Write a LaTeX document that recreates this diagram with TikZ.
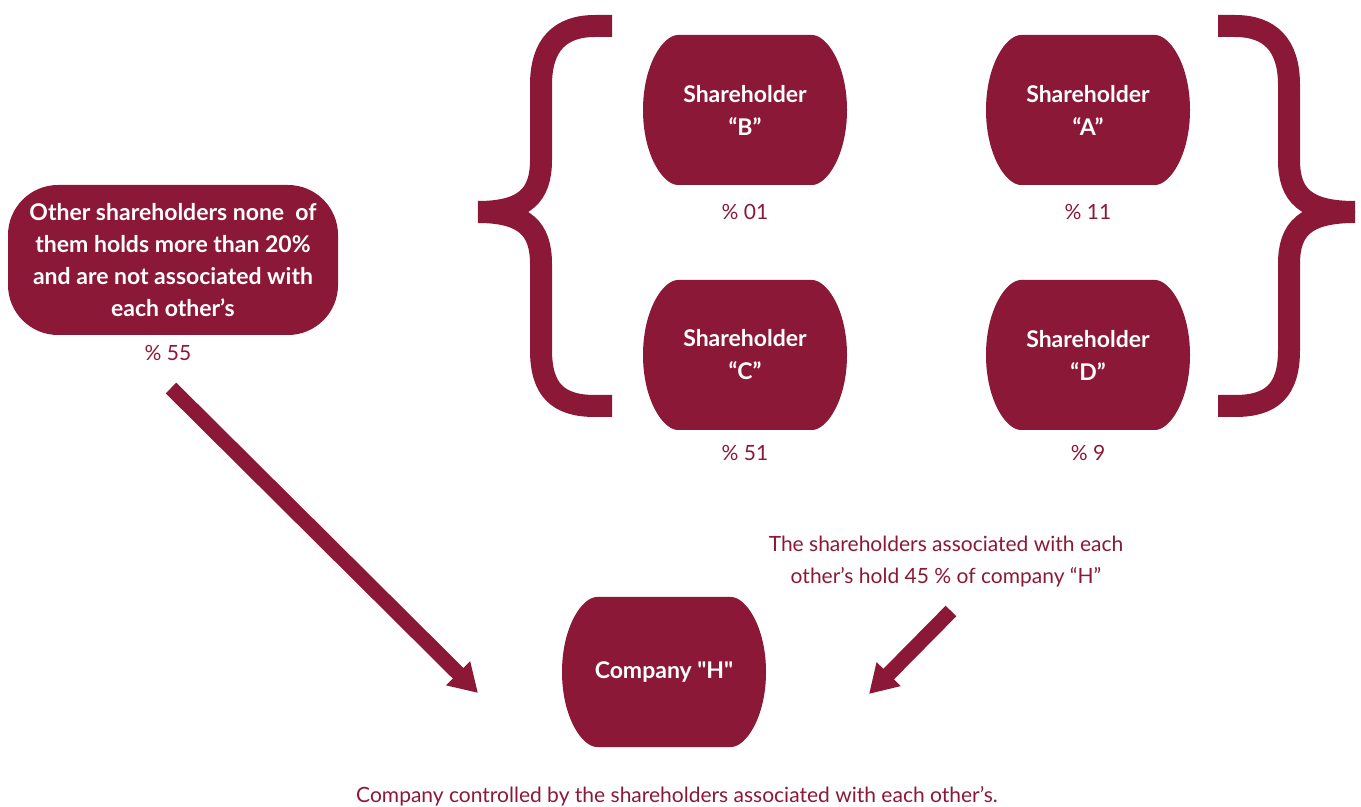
\documentclass[tikz,border=0pt]{standalone}
\usepackage{fontspec}
\setmainfont{Lato}
\usepackage{xcolor}
\usetikzlibrary{arrows.meta, positioning}
\definecolor{maroon}{RGB}{140,24,56}
% barrel outline, centred on the origin (units: picture pixels)
\newcommand{\barrelshape}{(-67,-75) -- (67,-75) .. controls (82,-75) and (102,-45) .. (102,0)
  .. controls (102,45) and (82,75) .. (67,75) -- (-67,75) .. controls (-82,75) and (-102,45) .. (-102,0)
  .. controls (-102,-45) and (-82,-75) .. (-67,-75) -- cycle}

\begin{document}
\begin{tikzpicture}[
  x=0.5pt, y=-0.5pt,
  every node/.style={text=maroon},
  barrelfill/.style={fill=maroon},
  barrel/.style={rectangle, minimum width=102pt, minimum height=75pt, inner sep=0pt, text=white,
    font=\bfseries\fontsize{11.5}{16.5}\selectfont, align=center},
  otherbox/.style={rectangle, rounded corners=25pt, fill=maroon, minimum width=165pt,
    minimum height=75pt, inner sep=0pt, text=white,
    font=\bfseries\fontsize{11.5}{16}\selectfont, align=center},
  pct/.style={font=\fontsize{10.5}{14}\selectfont},
  note/.style={font=\fontsize{10.5}{16}\selectfont, align=center},
  brace/.style={draw=maroon, line width=11pt},
  bigarrow/.style={draw=maroon, line width=7.5pt, -{Triangle[length=14pt,width=16pt]}}
]
\useasboundingbox (0,0) rectangle (1361,807);
% Associated shareholders (barrels) with their shares
\foreach \nm/\px/\py/\qy/\val in {B/745/110/212/01, A/1088/110/212/11, C/745/355/453/51, D/1088/355/453/9}{
  \fill[barrelfill, shift={(\px,\py)}] \barrelshape;
  \node[barrel] (\nm) at (\px,\py) {Shareholder\\“\nm”};
  \node[pct] (p\nm) at (\px,\qy) {\% \val};
}
% Left brace
\draw[brace] (612,26) -- (595,26) .. controls (560,26) and (541,45) .. (541,85)
  -- (541,160) .. controls (541,195) and (525,212) .. (478,212);
\draw[brace] (478,212) .. controls (525,212) and (541,229) .. (541,264)
  -- (541,350) .. controls (541,390) and (558,406) .. (595,406) -- (612,406);
% Right brace
\draw[brace] (1218,26) -- (1235,26) .. controls (1270,26) and (1289,45) .. (1289,85)
  -- (1289,160) .. controls (1289,195) and (1305,212) .. (1355,212);
\draw[brace] (1355,212) .. controls (1305,212) and (1289,229) .. (1289,264)
  -- (1289,350) .. controls (1289,390) and (1272,406) .. (1235,406) -- (1218,406);
% Other shareholders
\node[otherbox] (other) at (173,260) {Other shareholders none\ \ of\\them holds more than 20\%\\and are not associated with\\each other’s};
\node[pct] (p55) at (168,353) {\% 55};
% Company H
\fill[barrelfill, shift={(664,672)}] \barrelshape;
\node[barrel] (H) at (664,672) {Company \textquotedbl H\textquotedbl};
\node[note] (assoc) at (946,562) {The shareholders associated with each\\other’s hold 45 \% of company “H”};
\node[note] (caption) at (677,796) {Company controlled by the shareholders associated with each other’s.};
% Arrows
\coordinate (a1s) at (171,388);
\coordinate (a1e) at (478,693);
\coordinate (a2s) at (951,611);
\coordinate (a2e) at (869,694);
\draw[bigarrow] (a1s) -- (a1e);
\draw[bigarrow] (a2s) -- (a2e);
\end{tikzpicture}
\end{document}
